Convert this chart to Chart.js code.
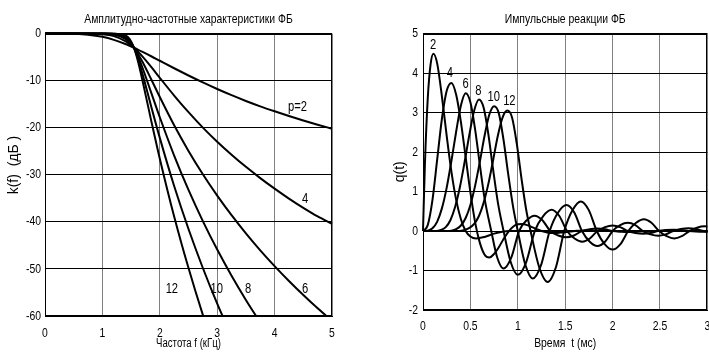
<!DOCTYPE html>
<html>
<head>
<meta charset="utf-8">
<script src="https://cdn.jsdelivr.net/npm/chart.js@4.4.0/dist/chart.umd.min.js"></script>
<style>
  html, body { margin: 0; padding: 0; background: #fff; overflow: hidden; }
  body { width: 709px; height: 356px; position: relative; }
  #afc { position: absolute; left: 0; top: 0; }
  #imp { position: absolute; left: 360px; top: 0; }
</style>
</head>
<body>
<canvas id="afc" width="355" height="356"></canvas>
<canvas id="imp" width="360" height="356"></canvas>
<script>
// АЧХ фильтров Баттерворта (дБ), порядок p = 2..12
const freq = [0, 0.25, 0.5, 0.75, 1, 1.2, 1.4, 1.475, 1.55, 1.625, 1.7, 1.85, 2, 2.25, 2.5, 2.75, 3, 3.25, 3.5, 3.75, 4, 4.25, 4.5, 4.75, 5];
const gain2 = [0, 0, -0.05, -0.23, -0.69, -1.33, -2.21, -2.60, -3.01, -3.44, -3.89, -4.81, -5.77, -7.36, -8.90, -10.38, -11.77, -13.08, -14.31, -15.45, -16.5, -17.5, -18.45, -19.35, -20.2];
const gain4 = [0, 0, 0, -0.01, -0.13, -0.53, -1.59, -2.23, -3.01, -3.91, -4.91, -7.09, -9.39, -13.16, -16.70, -19.97, -22.96, -25.73, -28.31, -30.70, -32.94, -35.05, -37.03, -38.85, -40.4];
const gain6 = [0, 0, 0, 0, -0.02, -0.20, -1.12, -1.91, -3.01, -4.42, -6.05, -9.71, -13.48, -19.48, -24.93, -29.89, -34.42, -38.58, -42.44, -46.04, -49.40, -52.57, -55.55, -58.37, -61.03];
const gain8 = [0, 0, 0, 0, 0, -0.07, -0.78, -1.62, -3.01, -4.96, -7.31, -12.54, -17.78, -25.91, -33.22, -39.84, -45.89, -51.44, -56.59, -61.39];
const gain10 = [0, 0, 0, 0, 0, -0.03, -0.53, -1.37, -3.01, -5.53, -8.66, -15.49, -22.16, -32.38, -41.52, -49.80, -57.36, -64.30];
const gain12 = [0, 0, 0, 0, 0, -0.01, -0.36, -1.15, -3.01, -6.14, -10.07, -18.49, -26.57, -38.86, -49.82, -59.76, -68.83];

// подписи кривых АЧХ (в единицах осей)
const gainNotes = [
  { text: 'p=2', x: 4.4, y: -15.6 },
  { text: '4', x: 4.53, y: -35.2 },
  { text: '6', x: 4.53, y: -54.2 },
  { text: '8', x: 3.54, y: -54.2 },
  { text: '10', x: 2.99, y: -54.2 },
  { text: '12', x: 2.21, y: -54.2 }
];

// импульсные реакции q(t), время в мс
const time2 = [0, 0.02, 0.05, 0.08, 0.11, 0.15, 0.2, 0.25, 0.3, 0.35, 0.4, 0.45, 0.5, 0.56, 0.65, 0.75, 0.85, 0.9, 3.05];
const pulse2 = [0, 1.68, 3.35, 4.22, 4.49, 4.24, 3.40, 2.41, 1.50, 0.79, 0.30, 0, -0.14, -0.19, -0.15, -0.065, -0.013, 0, 0];

const time4 = [0, 0.05, 0.1, 0.15, 0.2, 0.25, 0.3, 0.35, 0.4, 0.45, 0.5, 0.55, 0.6, 0.65, 0.7, 0.75, 0.8, 0.85, 0.9, 0.95,
  1.0, 1.05, 1.1, 1.15, 1.2, 1.25, 1.3, 1.35, 1.4, 1.45, 1.5, 1.55, 1.6, 1.65, 1.7, 1.75, 1.8, 1.9, 3.05];
const pulse4 = [0, 0.15, 0.79, 1.82, 2.85, 3.55, 3.75, 3.45, 2.76, 1.87, 0.98, 0.22, -0.30, -0.60, -0.67, -0.58, -0.41, -0.20, -0.02, 0.11,
  0.17, 0.18, 0.15, 0.10, 0.05, 0, -0.03, -0.05, -0.05, -0.04, -0.03, -0.01, 0, 0.01, 0.01, 0.01, 0.01, 0, 0];

const time6 = [0, 0.05, 0.1, 0.15, 0.2, 0.25, 0.3, 0.35, 0.4, 0.45, 0.5, 0.55, 0.6, 0.65, 0.72, 0.783, 0.85, 0.932, 1.013, 1.095,
  1.176, 1.26, 1.343, 1.427, 1.51, 1.593, 1.675, 1.758, 1.84, 1.92, 2.0, 2.09, 2.17, 2.35, 3.05];
const pulse6 = [0, 0.01, 0.07, 0.24, 0.58, 1.10, 1.78, 2.52, 3.18, 3.49, 3.26, 2.57, 1.67, 0.82, 0, -0.67, -0.95, -0.67, 0, 0.275,
  0.39, 0.275, 0, -0.113, -0.16, -0.113, 0, 0.046, 0.065, 0.046, 0, -0.018, -0.025, 0, 0];

const time8 = [0, 0.14, 0.19, 0.24, 0.29, 0.34, 0.39, 0.44, 0.49, 0.54, 0.59, 0.64, 0.69, 0.74, 0.79, 0.85, 0.925, 1.0, 1.089, 1.179,
  1.268, 1.357, 1.438, 1.519, 1.599, 1.68, 1.76, 1.84, 1.92, 2.0, 2.08, 2.16, 2.24, 2.32, 2.4, 2.48, 2.56, 2.64, 2.72, 2.8,
  2.88, 2.96, 3.05];
const pulse8 = [0, 0, 0.03, 0.10, 0.28, 0.62, 1.12, 1.76, 2.45, 3.05, 3.33, 3.12, 2.44, 1.55, 0.72, 0, -0.785, -1.11, -0.785, 0,
  0.38, 0.54, 0.38, 0, -0.19, -0.27, -0.19, 0, 0.10, 0.14, 0.10, 0, -0.05, -0.07, -0.05, 0, 0.025, 0.035, 0.025, 0,
  -0.015, -0.02, -0.015];

const time10 = [0, 0.25, 0.3, 0.35, 0.4, 0.45, 0.5, 0.55, 0.6, 0.65, 0.7, 0.75, 0.8, 0.85, 0.9, 0.95, 1.0, 1.079, 1.158, 1.247,
  1.336, 1.425, 1.514, 1.596, 1.677, 1.759, 1.84, 1.92, 2.0, 2.08, 2.16, 2.24, 2.32, 2.4, 2.48, 2.56, 2.64, 2.72, 2.8, 2.88,
  2.96, 3.05];
const pulse10 = [0, 0, 0.01, 0.05, 0.14, 0.33, 0.66, 1.15, 1.76, 2.42, 2.95, 3.16, 2.98, 2.30, 1.42, 0.62, 0, -0.85, -1.20, -0.85,
  0, 0.47, 0.66, 0.47, 0, -0.27, -0.38, -0.27, 0, 0.15, 0.21, 0.15, 0, -0.085, -0.12, -0.085, 0, 0.05, 0.07, 0.05,
  0, -0.04];

const time12 = [0, 0.38, 0.44, 0.49, 0.54, 0.59, 0.64, 0.69, 0.74, 0.79, 0.84, 0.89, 0.94, 0.99, 1.04, 1.09, 1.135, 1.225, 1.315, 1.403,
  1.49, 1.578, 1.665, 1.749, 1.833, 1.916, 2.0, 2.083, 2.165, 2.248, 2.33, 2.41, 2.49, 2.57, 2.65, 2.73, 2.81, 2.89, 2.97, 3.05];
const pulse12 = [0, 0, 0.03, 0.08, 0.18, 0.38, 0.72, 1.20, 1.80, 2.42, 2.88, 3.05, 2.87, 2.20, 1.31, 0.52, 0, -0.91, -1.29, -0.91,
  0, 0.53, 0.75, 0.53, 0, -0.33, -0.47, -0.33, 0, 0.21, 0.30, 0.21, 0, -0.13, -0.19, -0.13, 0, 0.085, 0.12, 0.11];

// подписи импульсных реакций
const pulseNotes = [
  { text: '2', x: 0.108, y: 4.72 },
  { text: '4', x: 0.283, y: 4.0 },
  { text: '6', x: 0.45, y: 3.72 },
  { text: '8', x: 0.585, y: 3.55 },
  { text: '10', x: 0.747, y: 3.40 },
  { text: '12', x: 0.911, y: 3.30 }
];

// узкий шрифт (сжимается при выводе) и обычный для подписей оси Y
const FONT = "'Liberation Sans', sans-serif";
const FONT_WIDE = "Arial, sans-serif";
const font = (size, family) => ({ family: family || FONT, size: size, weight: 'normal' });

const toPoints = (xs, ys) => ys.map((v, i) => ({ x: xs[i], y: v }));

// в оригинале узкий шрифт: текст с FONT сжимаем по горизонтали
const narrowText = {
  id: 'narrowText',
  beforeDraw(chart) {
    const ctx = chart.ctx;
    if (ctx._narrow) return;
    const fill = ctx.fillText.bind(ctx);
    ctx.fillText = function (text, x, y, maxWidth) {
      const k = /Liberation/.test(ctx.font) ? 0.8 : 1;
      ctx.save();
      ctx.translate(x, y);
      ctx.scale(k, 1);
      if (maxWidth === undefined) fill(text, 0, 0);
      else fill(text, 0, 0, maxWidth / k);
      ctx.restore();
    };
    ctx._narrow = true;
  }
};

// подписи кривых + рамка вокруг области графика
function notesPlugin(items) {
  return {
    id: 'notes',
    afterDatasetsDraw(chart) {
      const { ctx, chartArea: a, scales: { x, y } } = chart;
      ctx.save();
      ctx.font = '14px ' + FONT;
      ctx.fillStyle = '#000';
      ctx.textAlign = 'center';
      ctx.textBaseline = 'middle';
      items.forEach(n => ctx.fillText(n.text, x.getPixelForValue(n.x), y.getPixelForValue(n.y)));
      ctx.strokeStyle = '#000';
      ctx.lineWidth = 1;
      ctx.strokeRect(Math.round(a.left) + 0.5, Math.round(a.top) + 0.5,
        Math.round(a.right - a.left) - 1, Math.round(a.bottom - a.top) - 1);
      ctx.restore();
    }
  };
}

function lineSet(points, clip) {
  return {
    data: points,
    borderColor: '#000',
    borderWidth: 2,
    pointRadius: 0,
    cubicInterpolationMode: 'monotone',
    clip: clip
  };
}

function axisOpts(min, max, step, gridColor, title, tickPad, fit) {
  return {
    type: 'linear',
    min: min,
    max: max,
    ticks: {
      stepSize: step, color: '#000', font: font(13), padding: tickPad, maxRotation: 0, autoSkip: false,
      callback: v => String(v)
    },
    grid: { color: gridColor, drawTicks: false, lineWidth: 1 },
    border: { color: '#000', width: 1 },
    title: Object.assign({ display: true, color: '#000' }, title),
    afterFit: fit
  };
}

const gainClip = { left: 0, top: 3, right: 2, bottom: 0 };
new Chart(document.getElementById('afc'), {
  type: 'line',
  data: {
    datasets: [gain2, gain4, gain6, gain8, gain10, gain12].map(g => lineSet(toPoints(freq, g), gainClip))
  },
  options: {
    responsive: false,
    animation: false,
    events: [],
    layout: { padding: { left: 0, right: 23, top: 0, bottom: 0 } },
    plugins: {
      legend: { display: false },
      tooltip: { enabled: false },
      title: {
        display: true, fullSize: false, color: '#000', font: font(13),
        text: 'Амплитудно-частотные характеристики ФБ',
        padding: { top: 12, bottom: 6 }
      }
    },
    scales: {
      x: axisOpts(0, 5, 1, '#808080',
        { text: 'Частота f (кГц)', font: font(12), padding: { top: 0, bottom: 5 } }, 10, s => { s.height = 40; }),
      y: axisOpts(-60, 0, 10, '#000',
        { text: '     k(f)  (дБ )', font: font(14, FONT_WIDE), padding: { top: 6, bottom: 0 } }, 4, s => { s.width = 45; })
    }
  },
  plugins: [narrowText, notesPlugin(gainNotes)]
});

const pulseClip = { left: 1, top: 0, right: 0, bottom: 0 };
new Chart(document.getElementById('imp'), {
  type: 'line',
  data: {
    datasets: [
      toPoints(time2, pulse2), toPoints(time4, pulse4), toPoints(time6, pulse6),
      toPoints(time8, pulse8), toPoints(time10, pulse10), toPoints(time12, pulse12)
    ].map(p => lineSet(p, pulseClip))
  },
  options: {
    responsive: false,
    animation: false,
    events: [],
    layout: { padding: { left: 0, right: 11, top: 0, bottom: 0 } },
    plugins: {
      legend: { display: false },
      tooltip: { enabled: false },
      title: {
        display: true, fullSize: false, color: '#000', font: font(13),
        text: 'Импульсные реакции ФБ',
        padding: { top: 12, bottom: 6 }
      }
    },
    scales: {
      x: axisOpts(0, 3, 0.5, '#808080',
        { text: 'Время  t (мс)', font: font(13), padding: { top: 0, bottom: 5 } }, 9, s => { s.height = 46; }),
      y: axisOpts(-2, 5, 1, '#000',
        { text: 'q(t)', font: font(14, FONT_WIDE), padding: { top: 32, bottom: 0 } }, 5, s => { s.width = 63; })
    }
  },
  plugins: [narrowText, notesPlugin(pulseNotes)]
});
</script>
</body>
</html>
